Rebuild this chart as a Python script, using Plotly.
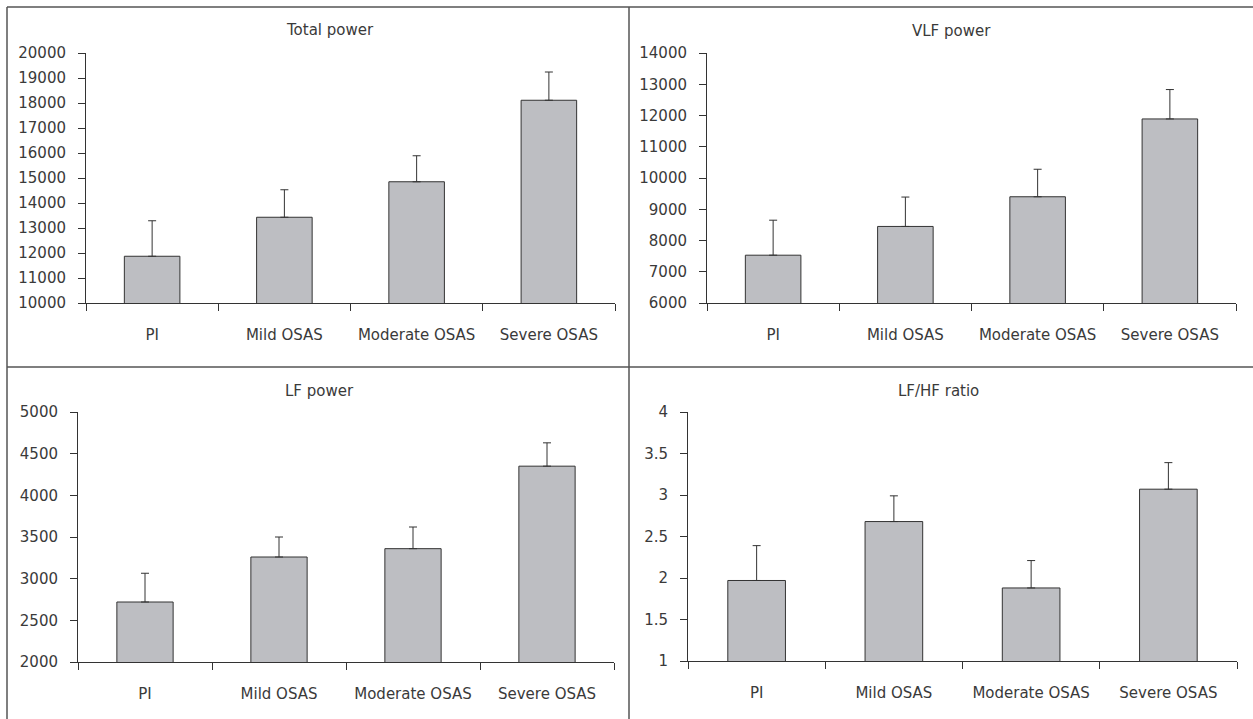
import plotly.graph_objects as go

categories = ["PI", "Mild OSAS", "Moderate OSAS", "Severe OSAS"]

panel_titles = ["Total power", "VLF power", "LF power", "LF/HF ratio"]

total_mean = [11870, 13430, 14850, 18110]
total_err = [1420, 1100, 1040, 1130]

vlf_mean = [7530, 8450, 9400, 11890]
vlf_err = [1120, 940, 880, 940]

lf_mean = [2720, 3260, 3360, 4350]
lf_err = [345, 240, 260, 280]

ratio_mean = [1.97, 2.68, 1.88, 3.07]
ratio_err = [0.42, 0.31, 0.33, 0.32]

W, H = 1253, 719
FONT = "DejaVu Sans"
FS = 15
TXT = "#3a3a3a"
AX = "#333333"

panels = [
    dict(mean=total_mean, err=total_err, rng=[10000, 20000], dtick=1000, fmt="d",
         x=(86, 615), y=(53, 303), title=panel_titles[0], tpos=(330, 30)),
    dict(mean=vlf_mean, err=vlf_err, rng=[6000, 14000], dtick=1000, fmt="d",
         x=(707, 1236), y=(53, 303), title=panel_titles[1], tpos=(951, 31)),
    dict(mean=lf_mean, err=lf_err, rng=[2000, 5000], dtick=500, fmt="d",
         x=(78, 614), y=(412, 662), title=panel_titles[2], tpos=(319, 391)),
    dict(mean=ratio_mean, err=ratio_err, rng=[1, 4], dtick=0.5, fmt="",
         x=(688, 1237), y=(412, 661), title=panel_titles[3], tpos=(938, 391)),
]

fig = go.Figure()
layout = dict(
    width=W, height=H,
    margin=dict(l=0, r=0, t=0, b=0, autoexpand=False),
    paper_bgcolor="white", plot_bgcolor="white",
    showlegend=False,
    font=dict(family=FONT, size=FS, color=TXT),
)
annotations = []
for i, p in enumerate(panels, start=1):
    suffix = "" if i == 1 else str(i)
    fig.add_trace(go.Bar(
        x=categories, y=p["mean"], width=0.42,
        marker=dict(color="#bdbec2", line=dict(color="#333333", width=1)),
        error_y=dict(type="data", symmetric=False, array=p["err"],
                     arrayminus=[0] * len(p["err"]),
                     color="#333333", thickness=1, width=4),
        xaxis="x" + suffix, yaxis="y" + suffix,
    ))
    layout["xaxis" + suffix] = dict(
        domain=[p["x"][0] / W, p["x"][1] / W],
        anchor="y" + suffix,
        type="category",
        showline=True, linecolor=AX, linewidth=1,
        ticks="outside", ticklen=7, tickcolor=AX, tickwidth=1,
        tickson="boundaries",
        showgrid=False, zeroline=False,
        ticklabelstandoff=18,
        tickfont=dict(family=FONT, size=FS, color=TXT),
        fixedrange=True, automargin=False,
    )
    layout["yaxis" + suffix] = dict(
        domain=[1 - p["y"][1] / H, 1 - p["y"][0] / H],
        anchor="x" + suffix,
        range=p["rng"], dtick=p["dtick"], tickformat=p["fmt"],
        showline=True, linecolor=AX, linewidth=1,
        ticks="outside", ticklen=7, tickcolor=AX, tickwidth=1,
        showgrid=False, zeroline=False,
        ticklabelstandoff=9,
        tickfont=dict(family=FONT, size=FS, color=TXT),
        fixedrange=True, automargin=False,
    )
    annotations.append(dict(
        text=p["title"], x=p["tpos"][0] / W, y=1 - p["tpos"][1] / H,
        xref="paper", yref="paper", showarrow=False,
        xanchor="center", yanchor="middle",
        font=dict(family=FONT, size=FS, color=TXT),
    ))

border = dict(color="#555555", width=1.5)
shapes = [
    dict(type="line", xref="paper", yref="paper", x0=7 / W, x1=7 / W, y0=0, y1=1 - 7 / H, line=border),
    dict(type="line", xref="paper", yref="paper", x0=7 / W, x1=1, y0=1 - 7 / H, y1=1 - 7 / H, line=border),
    dict(type="line", xref="paper", yref="paper", x0=629 / W, x1=629 / W, y0=0, y1=1 - 7 / H, line=border),
    dict(type="line", xref="paper", yref="paper", x0=7 / W, x1=1, y0=1 - 367 / H, y1=1 - 367 / H, line=border),
]
layout["annotations"] = annotations
layout["shapes"] = shapes
fig.update_layout(**layout)
fig.write_html(
    "out.html",
    config={"displayModeBar": False},
    post_script=(
        "document.documentElement.style.margin='0';"
        "document.body.style.margin='0';"
        "document.body.style.overflow='hidden';"
        "document.documentElement.style.overflow='hidden';"
    ),
)
